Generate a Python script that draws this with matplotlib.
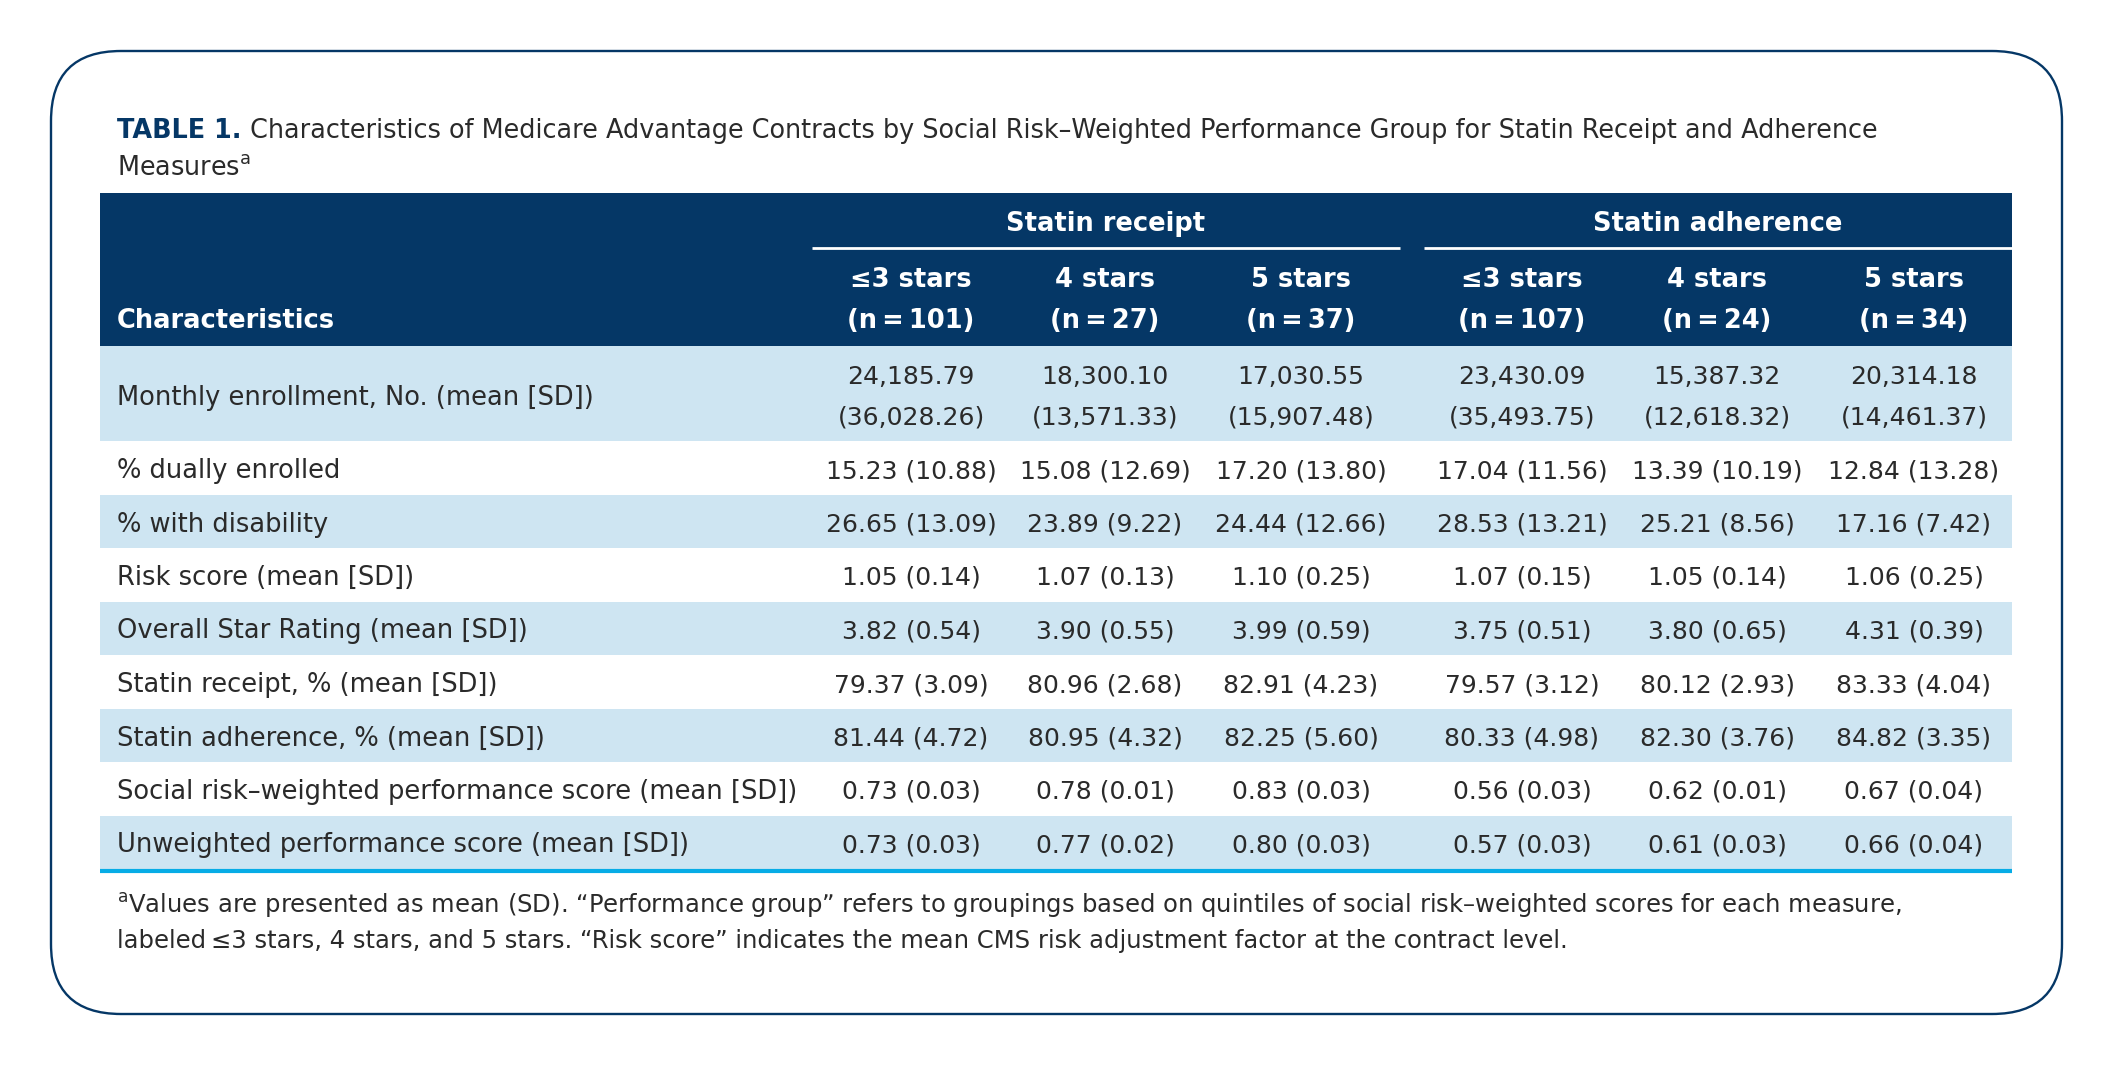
import matplotlib.pyplot as plt
from matplotlib.patches import FancyBboxPatch, Rectangle

plt.rcParams['font.family'] = ['DejaVu Sans']

NAVY = '#053766'
LIGHT = '#cee5f2'
CYAN = '#06ace6'
INK = '#2a2a2a'

# Table content
groups = ['Statin receipt', 'Statin adherence']
stars = ['≤3 stars', '4 stars', '5 stars', '≤3 stars', '4 stars', '5 stars']
n_contracts = [101, 27, 37, 107, 24, 34]

row_labels = [
    'Monthly enrollment, No. (mean [SD])',
    '% dually enrolled',
    '% with disability',
    'Risk score (mean [SD])',
    'Overall Star Rating (mean [SD])',
    'Statin receipt, % (mean [SD])',
    'Statin adherence, % (mean [SD])',
    'Social risk–weighted performance score (mean [SD])',
    'Unweighted performance score (mean [SD])',
]

enroll_mean = [24185.79, 18300.10, 17030.55, 23430.09, 15387.32, 20314.18]
enroll_sd = [36028.26, 13571.33, 15907.48, 35493.75, 12618.32, 14461.37]
dual_mean = [15.23, 15.08, 17.20, 17.04, 13.39, 12.84]
dual_sd = [10.88, 12.69, 13.80, 11.56, 10.19, 13.28]
disab_mean = [26.65, 23.89, 24.44, 28.53, 25.21, 17.16]
disab_sd = [13.09, 9.22, 12.66, 13.21, 8.56, 7.42]
risk_mean = [1.05, 1.07, 1.10, 1.07, 1.05, 1.06]
risk_sd = [0.14, 0.13, 0.25, 0.15, 0.14, 0.25]
star_mean = [3.82, 3.90, 3.99, 3.75, 3.80, 4.31]
star_sd = [0.54, 0.55, 0.59, 0.51, 0.65, 0.39]
receipt_mean = [79.37, 80.96, 82.91, 79.57, 80.12, 83.33]
receipt_sd = [3.09, 2.68, 4.23, 3.12, 2.93, 4.04]
adher_mean = [81.44, 80.95, 82.25, 80.33, 82.30, 84.82]
adher_sd = [4.72, 4.32, 5.60, 4.98, 3.76, 3.35]
weighted_mean = [0.73, 0.78, 0.83, 0.56, 0.62, 0.67]
weighted_sd = [0.03, 0.01, 0.03, 0.03, 0.01, 0.04]
unweighted_mean = [0.73, 0.77, 0.80, 0.57, 0.61, 0.66]
unweighted_sd = [0.03, 0.02, 0.03, 0.03, 0.03, 0.04]

single_rows = [
    (dual_mean, dual_sd), (disab_mean, disab_sd), (risk_mean, risk_sd),
    (star_mean, star_sd), (receipt_mean, receipt_sd), (adher_mean, adher_sd),
    (weighted_mean, weighted_sd), (unweighted_mean, unweighted_sd),
]

title_rest = (' Characteristics of Medicare Advantage Contracts by Social Risk–Weighted '
              'Performance Group for Statin Receipt and Adherence')
foot1 = ('Values are presented as mean (SD). “Performance group” refers to groupings based on '
         'quintiles of social risk–weighted scores for each measure,')
foot2 = ('labeled\u2009≤3 stars, 4 stars, and 5 stars. “Risk score” indicates the mean CMS risk '
         'adjustment factor at the contract level.')

# layout in pixel units
W, H = 2113, 1066
left, right = 100, 2012
label_x = 117
col_x = [911, 1105, 1301, 1522, 1717, 1914]
FS = 18.5      # labels / headers
FS_VAL = 18    # cell values
FS_TITLE = 18.4

fig = plt.figure(figsize=(W / 100, H / 100), dpi=100)
ax = fig.add_axes([0, 0, 1, 1])
ax.set_xlim(0, W)
ax.set_ylim(H, 0)
ax.axis('off')

# outer rounded frame
ax.add_patch(FancyBboxPatch((51, 51), 2011, 963, boxstyle='round,pad=0,rounding_size=70',
                            fc='white', ec=NAVY, lw=1.7))

# title
t1 = ax.text(label_x, 138, 'TABLE 1.', fontsize=FS_TITLE, fontweight='bold', color=NAVY,
             va='baseline')
ax.annotate(title_rest, xy=(1, 0), xycoords=t1, va='bottom', fontsize=FS_TITLE, color=INK)
ax.text(label_x, 175, r'Measures$^{\mathregular{a}}$', fontsize=FS_TITLE, color=INK, va='baseline')

# header block
ax.add_patch(Rectangle((left, 193), right - left, 153, fc=NAVY, ec='none'))
ax.text(label_x, 328, 'Characteristics', fontsize=FS, fontweight='bold', color='white',
        va='baseline')
spans = [(812, 1400), (1424, right)]
for g, (x0, x1) in zip(groups, spans):
    ax.text((x0 + x1) / 2, 231, g, fontsize=FS, fontweight='bold', color='white',
            ha='center', va='baseline')
    ax.plot([x0, x1], [248, 248], color='white', lw=2, solid_capstyle='butt')
for x, s, n in zip(col_x, stars, n_contracts):
    ax.text(x, 287, s, fontsize=FS, fontweight='bold', color='white', ha='center', va='baseline')
    ax.text(x, 328, f'(n\u2009=\u2009{n})', fontsize=FS, fontweight='bold', color='white',
            ha='center', va='baseline')

# body rows
first_bottom = 441
pitch = 53.5
ax.add_patch(Rectangle((left, 346), right - left, first_bottom - 346, fc=LIGHT, ec='none'))
ax.text(label_x, 405, row_labels[0], fontsize=FS, color=INK, va='baseline')
for x, m, s in zip(col_x, enroll_mean, enroll_sd):
    ax.text(x, 384, f'{m:,.2f}', fontsize=FS_VAL, color=INK, ha='center', va='baseline')
    ax.text(x, 425, f'({s:,.2f})', fontsize=FS_VAL, color=INK, ha='center', va='baseline')

for i, (means, sds) in enumerate(single_rows):
    top = first_bottom + i * pitch
    if i % 2 == 1:
        ax.add_patch(Rectangle((left, top), right - left, pitch, fc=LIGHT, ec='none'))
    base = top + 37
    ax.text(label_x, base, row_labels[i + 1], fontsize=FS, color=INK, va='baseline')
    for x, m, s in zip(col_x, means, sds):
        ax.text(x, base, f'{m:.2f} ({s:.2f})', fontsize=FS_VAL, color=INK,
                ha='center', va='baseline')

bottom = first_bottom + len(single_rows) * pitch
ax.plot([left, right], [bottom + 1.5, bottom + 1.5], color=CYAN, lw=3, solid_capstyle='butt')

# footnote
ax.text(label_x, 913, r'$^{\mathregular{a}}$' + foot1, fontsize=17.5, color=INK, va='baseline')
ax.text(label_x, 948, foot2, fontsize=17.5, color=INK, va='baseline')

fig.savefig('out.png', dpi=100)
